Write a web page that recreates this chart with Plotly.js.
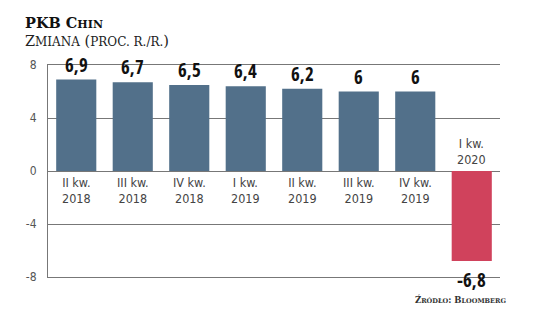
<!DOCTYPE html>
<html>
<head>
<meta charset="utf-8">
<script src="https://cdn.plot.ly/plotly-3.0.1.min.js"></script>
<style>html,body{margin:0;padding:0;background:#fff;}#chart{width:536px;height:324px;}</style>
</head>
<body>
<div id="chart"></div>
<script>
var categories = ["II kw.<br>2018", "III kw.<br>2018", "IV kw.<br>2018", "I kw.<br>2019", "II kw.<br>2019", "III kw.<br>2019", "IV kw.<br>2019", "I kw.<br>2020"];
var values = [6.9, 6.7, 6.5, 6.4, 6.2, 6.0, 6.0, -6.8];
var tickValues = [8, 4, 0, -4, -8];
var tickLabels = ["8", "4", "0", "-4", "-8"];

var positiveColor = "#52708a";
var negativeColor = "#d0425c";
var gridColor = "#777";

var xs = categories.map(function (c, i) { return i; });
var colors = values.map(function (v) { return v >= 0 ? positiveColor : negativeColor; });
function fmt(v) { return String(v).replace(".", ","); }

var annotations = [];
values.forEach(function (v, i) {
  annotations.push({
    x: i, y: v, xref: "x", yref: "y",
    text: "<b>" + fmt(v) + "</b>",
    showarrow: false,
    yanchor: v >= 0 ? "bottom" : "top",
    yshift: v >= 0 ? 0 : -4,
    font: {family: "Open Sans Condensed, DejaVu Sans Condensed, sans-serif", size: 19, color: "#111"}
  });
  annotations.push({
    x: i, y: 0, xref: "x", yref: "y",
    text: categories[i],
    showarrow: false,
    yanchor: v >= 0 ? "top" : "bottom",
    yshift: v >= 0 ? -2 : 2,
    font: {family: "DejaVu Sans Condensed, sans-serif", size: 12.5, color: "#444"}
  });
});

annotations.push({
  xref: "paper", yref: "paper", x: -0.055, y: 1.2, xanchor: "left", yanchor: "middle",
  text: "<b>PKB C<span style=\"font-size:11px\">HIN</span></b>",
  showarrow: false, font: {family: "DejaVu Serif", size: 14.5, color: "#111"}
});
annotations.push({
  xref: "paper", yref: "paper", x: -0.055, y: 1.115, xanchor: "left", yanchor: "middle",
  text: "Z<span style=\"font-size:12px\">MIANA</span> (<span style=\"font-size:12px\">PROC. R./R.</span>)",
  showarrow: false, font: {family: "DejaVu Serif", size: 14.5, color: "#222"}
});
annotations.push({
  xref: "paper", yref: "paper", x: 1.018, y: -0.104, xanchor: "right", yanchor: "middle",
  text: "<b>Ź<span style=\"font-size:6.5px\">RÓDŁO</span>: B<span style=\"font-size:6.5px\">LOOMBERG</span></b>",
  showarrow: false, font: {family: "DejaVu Serif", size: 8.5, color: "#333"}
});

var trace = {
  type: "bar",
  x: xs,
  y: values,
  marker: {color: colors, line: {width: 0}},
  hoverinfo: "none"
};

var layout = {
  width: 536, height: 324,
  margin: {l: 48, r: 36, t: 65, b: 47},
  paper_bgcolor: "#fff", plot_bgcolor: "#fff",
  showlegend: false,
  bargap: 0.29,
  xaxis: {
    range: [-0.5, 7.5], showticklabels: false, showgrid: false, zeroline: false,
    showline: true, mirror: true, linecolor: gridColor, linewidth: 1,
    ticks: "", fixedrange: true
  },
  yaxis: {
    range: [-8, 8], tickvals: tickValues, ticktext: tickLabels,
    showgrid: true, gridcolor: gridColor, gridwidth: 1,
    zeroline: true, zerolinecolor: gridColor, zerolinewidth: 1,
    showline: true, linecolor: gridColor, linewidth: 1,
    ticks: "", ticklabelstandoff: 8,
    tickfont: {family: "DejaVu Sans Condensed, sans-serif", size: 12, color: "#555"},
    fixedrange: true
  },
  annotations: annotations
};

Plotly.newPlot("chart", [trace], layout, {displayModeBar: false, staticPlot: true});
</script>
</body>
</html>
